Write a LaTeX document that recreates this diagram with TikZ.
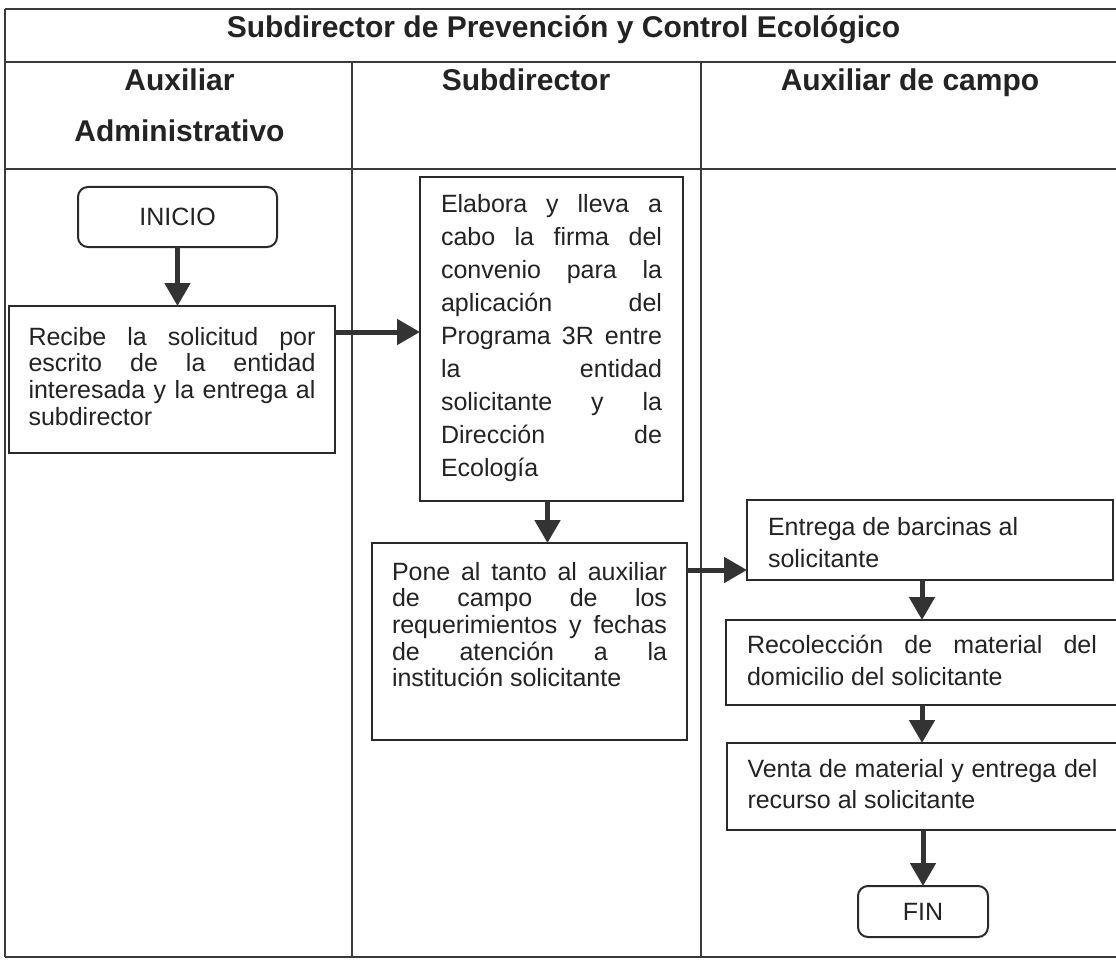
\documentclass[tikz,border=0pt]{standalone}
\usepackage{fontspec}
\setmainfont{Liberation Sans}
\usetikzlibrary{arrows.meta}
\definecolor{linec}{HTML}{3A3A3A}
\definecolor{boxc}{HTML}{2A2A2A}
\definecolor{txtc}{HTML}{232323}
\definecolor{arrc}{HTML}{333333}
\newcommand\jline[1]{\hbox to\hsize{#1}}
\newcommand\lline[1]{\hbox to\hsize{#1\hfil}}
\newcommand\tbox[5]{\parbox[c][#1][t]{#2}{\vskip#3\relax\baselineskip=#4\relax\lineskiplimit=-50pt\relax\lineskip=0pt\relax#5}}
\tikzset{
  proc/.style={draw=boxc, line width=2pt, rectangle, inner sep=0pt, outer sep=0pt,
    anchor=north west, text=txtc, font=\fontsize{25}{30}\selectfont},
  term/.style={proc, rounded corners=10pt},
  arr/.style={draw=arrc, line width=5pt, -{Triangle[width=25pt,length=23pt]}},
  grid/.style={draw=linec, line width=1.5pt},
  head/.style={font=\fontsize{30}{51}\selectfont\bfseries, text=txtc, inner sep=0pt}
}
\begin{document}
\begin{tikzpicture}[x=1pt, y=-1pt]
\useasboundingbox (0,0) rectangle (1116,960);
\fill[white] (0,0) rectangle (1116,960);
% table
\draw[grid] (5,9) -- (1116,9);
\draw[grid] (5,62) -- (1116,62);
\draw[grid] (5,169) -- (1116,169);
\draw[grid] (5,957) -- (1116,957);
\draw[grid] (5,9) -- (5,957);
\draw[grid] (352,62) -- (352,957);
\draw[grid] (701,62) -- (701,957);
% headers
\node[head, anchor=base] (title) at (563.5,38) {Subdirector de Prevención y Control Ecológico};
\node[head, anchor=base] (h1) at (179.5,91) {\begin{tabular}[t]{@{}c@{}}Auxiliar\\Administrativo\end{tabular}};
\node[head, anchor=base] (h2) at (526,91) {Subdirector};
\node[head, anchor=base] (h3) at (910,91) {Auxiliar de campo};
% boxes
\node[term, minimum width=199pt, minimum height=60pt] (ini) at (78,187) {INICIO};
\node[proc, minimum width=326pt, minimum height=147pt] (rec) at (9,306)
  {\tbox{147pt}{287pt}{21pt}{26.7pt}{%
    \jline{Recibe la solicitud por}%
    \jline{escrito de la entidad}%
    \jline{interesada y la entrega al}%
    \lline{subdirector}}};
\node[proc, minimum width=263pt, minimum height=324pt] (ela) at (420,177)
  {\tbox{324pt}{221pt}{17pt}{33pt}{%
    \jline{Elabora y lleva a}%
    \jline{cabo la firma del}%
    \jline{convenio para la}%
    \jline{aplicación del}%
    \jline{Programa 3R entre}%
    \jline{la entidad}%
    \jline{solicitante y la}%
    \jline{Dirección de}%
    \lline{Ecología}}};
\node[proc, minimum width=315pt, minimum height=197pt] (pon) at (372,543)
  {\tbox{197pt}{275pt}{19pt}{26.7pt}{%
    \jline{Pone al tanto al auxiliar}%
    \jline{de campo de los}%
    \jline{requerimientos y fechas}%
    \jline{de atención a la}%
    \lline{institución solicitante}}};
\node[proc, minimum width=366pt, minimum height=80pt] (ent) at (747,500)
  {\tbox{80pt}{324pt}{17pt}{32pt}{%
    \lline{Entrega de barcinas al}%
    \lline{solicitante}}};
\node[proc, minimum width=392pt, minimum height=85pt] (rco) at (726,620)
  {\tbox{85pt}{350pt}{15pt}{32pt}{%
    \jline{Recolección de material del}%
    \lline{domicilio del solicitante}}};
\node[proc, minimum width=391pt, minimum height=87pt] (ven) at (727,743)
  {\tbox{87pt}{350pt}{16pt}{31pt}{%
    \jline{Venta de material y entrega del}%
    \lline{recurso al solicitante}}};
\node[term, minimum width=130pt, minimum height=51pt] (fin) at (858,886) {FIN};
% connectors
\draw[arr] (ini.south) -- (ini.south |- rec.north);
\coordinate (a1) at ([yshift=-26pt]rec.north east);
\draw[arr] (a1) -- (a1 -| ela.west);
\coordinate (a2) at ([xshift=-4pt]ela.south);
\draw[arr] (a2) -- (a2 |- pon.north);
\coordinate (a3) at ([yshift=-27pt]pon.north east);
\draw[arr] (a3) -- (a3 -| ent.west);
\draw[arr] (rco.north |- ent.south) -- (rco.north);
\draw[arr] (rco.south) -- (rco.south |- ven.north);
\draw[arr] (fin.north |- ven.south) -- (fin.north);
\end{tikzpicture}
\end{document}
